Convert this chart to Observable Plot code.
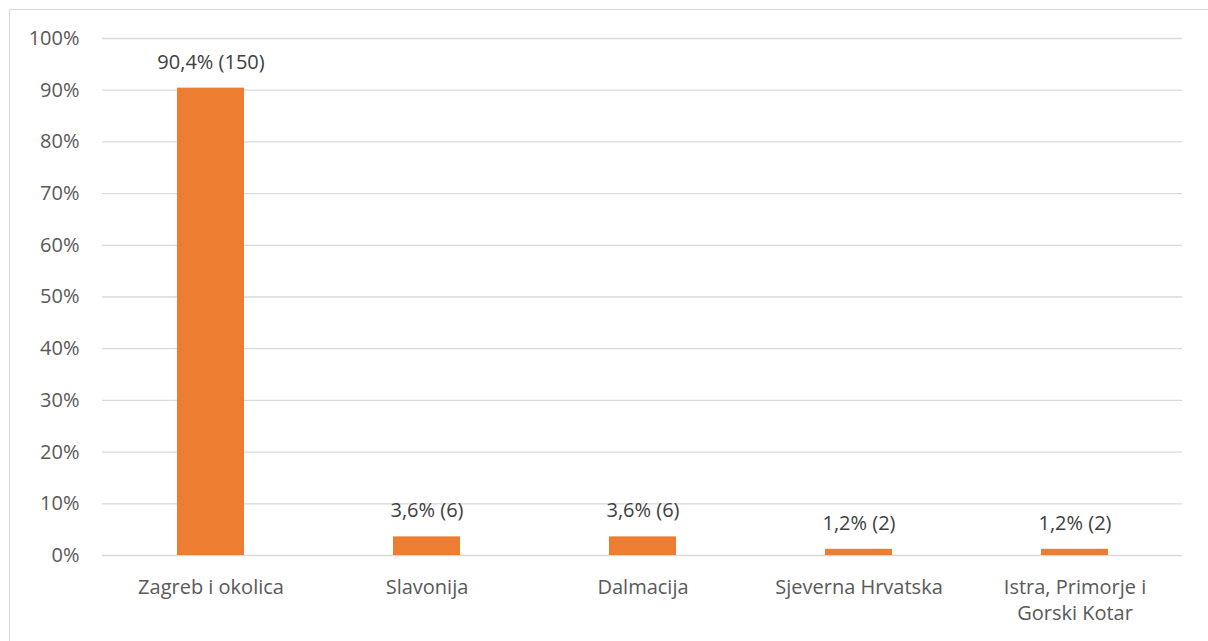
<!DOCTYPE html>
<html>
<head>
<meta charset="utf-8">
<script src="https://cdn.jsdelivr.net/npm/d3@7"></script>
<script src="https://cdn.jsdelivr.net/npm/@observablehq/plot@0.6"></script>
<style>
  html, body { margin: 0; padding: 0; background: #fff; overflow: hidden; }
  #wrap { position: relative; width: 1208px; height: 641px; }
  #frame { position: absolute; left: 9px; top: 9px; width: 1210px; height: 700px; border: 1px solid #d9d9d9; box-sizing: border-box; pointer-events: none; }
  svg { display: block; }
</style>
</head>
<body>
<div id="wrap"><div id="frame"></div></div>
<script>
const categories = ["Zagreb i okolica", "Slavonija", "Dalmacija", "Sjeverna Hrvatska", "Istra, Primorje i\nGorski Kotar"];
const percents = [90.4, 3.6, 3.6, 1.2, 1.2];
const counts = [150, 6, 6, 2, 2];
const yTicks = [0, 10, 20, 30, 40, 50, 60, 70, 80, 90, 100];

const data = categories.map((c, i) => ({
  region: c,
  value: percents[i],
  label: `${String(percents[i].toFixed(1)).replace(".", ",")}% (${counts[i]})`
}));

const font = "'Open Sans', Lato, sans-serif";
const chart = Plot.plot({
  width: 1208,
  height: 641,
  marginLeft: 102,
  marginRight: 26,
  marginTop: 38,
  marginBottom: 86,
  style: { fontFamily: font, fontSize: "20px", color: "#595959", background: "transparent" },
  x: { domain: categories, paddingInner: 0.69, paddingOuter: 0.345, label: null, tickSize: 0 },
  y: { domain: [0, 100], ticks: yTicks, label: null, tickSize: 0 },
  marks: [
    Plot.gridY(yTicks, { stroke: "#d9d9d9", strokeOpacity: 1, strokeWidth: 1.3 }),
    Plot.axisY({ ticks: yTicks, tickFormat: d => d + "%", tickSize: 0, tickPadding: 23, fontSize: 20, fill: "#595959", label: null }),
    Plot.axisX({ tickSize: 0, tickPadding: 20, fontSize: 20, fill: "#595959", label: null, lineHeight: 1.3 }),
    Plot.barY(data, { x: "region", y: "value", fill: "#ed7d31" }),
    Plot.text(data, { x: "region", y: "value", text: "label", dy: -26, fontSize: 20, fill: "#404040" })
  ]
});
document.getElementById("wrap").appendChild(chart);
chart.style.position = "absolute";
chart.style.left = "0";
chart.style.top = "0";
</script>
</body>
</html>
